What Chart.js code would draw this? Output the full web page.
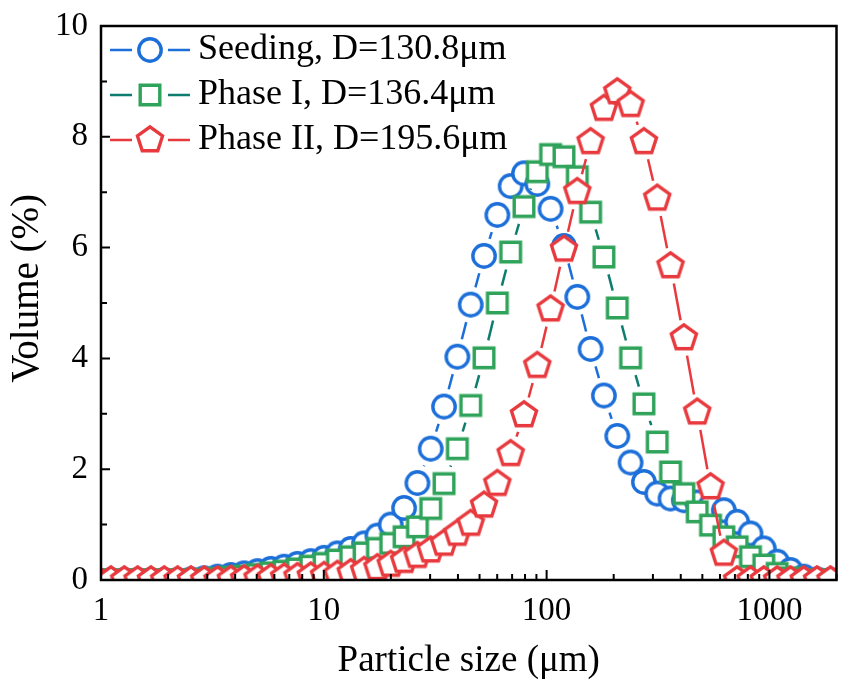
<!DOCTYPE html>
<html>
<head>
<meta charset="utf-8">
<title>Particle size distribution</title>
<script src="https://cdn.jsdelivr.net/npm/chart.js@4.4.1/dist/chart.umd.min.js"></script>
<style>
  html, body { margin: 0; padding: 0; background: #fff; }
  #wrap { width: 851px; height: 690px; }
</style>
</head>
<body>
<div id="wrap"><canvas id="psd" width="851" height="690"></canvas></div>
<script>
// ---------- Data ----------
// particle size classes, um (log-spaced instrument bins)
const sizes = [
  0.966, 1.108, 1.272, 1.460, 1.675, 1.922, 2.206, 2.532, 2.905, 3.334,
  3.826, 4.391, 5.040, 5.783, 6.637, 7.617, 8.741, 10.03, 11.51, 13.21,
  15.16, 17.40, 19.97, 22.92, 26.30, 30.19, 34.64, 39.76, 45.63, 52.36,
  60.09, 68.97, 79.15, 90.83, 104.2, 119.6, 137.3, 157.5, 180.8, 207.5,
  238.1, 273.3, 313.6, 359.9, 413.0, 474.0, 544.0, 624.3, 716.5, 822.2,
  943.6, 1083, 1243, 1426, 1637, 1879
];
// volume %, one value per size class
const seeding = [
  0, 0, 0, 0, 0, 0, 0, 0.01, 0.03, 0.06,
  0.09, 0.12, 0.16, 0.20, 0.24, 0.29, 0.34, 0.40, 0.48, 0.56,
  0.66, 0.80, 1.00, 1.30, 1.75, 2.37, 3.13, 4.03, 4.97, 5.85,
  6.59, 7.11, 7.34, 7.15, 6.70, 6.03, 5.11, 4.17, 3.33, 2.60,
  2.12, 1.77, 1.56, 1.47, 1.44, 1.40, 1.34, 1.26, 1.05, 0.84,
  0.57, 0.33, 0.18, 0.06, 0.01, 0
];
const phase1 = [
  0, 0, 0, 0, 0, 0, 0, 0, 0.01, 0.03,
  0.05, 0.07, 0.10, 0.13, 0.16, 0.20, 0.25, 0.30, 0.36, 0.42,
  0.49, 0.57, 0.66, 0.78, 0.96, 1.29, 1.74, 2.37, 3.15, 4.01,
  5.00, 5.92, 6.74, 7.37, 7.68, 7.64, 7.28, 6.64, 5.83, 4.91,
  4.01, 3.18, 2.49, 1.95, 1.56, 1.23, 0.99, 0.78, 0.60, 0.42,
  0.27, 0.12, 0.04, 0, 0, 0
];
const phase2 = [
  0, 0, 0, 0, 0, 0, 0, 0, 0, 0,
  0.01, 0.02, 0.03, 0.04, 0.05, 0.06, 0.07, 0.08, 0.10, 0.13,
  0.17, 0.22, 0.28, 0.35, 0.44, 0.54, 0.66, 0.84, 1.02, 1.35,
  1.74, 2.28, 2.98, 3.87, 4.89, 5.97, 7.01, 7.91, 8.51, 8.81,
  8.58, 7.91, 6.89, 5.67, 4.37, 3.03, 1.68, 0.48, 0, 0,
  0, 0, 0, 0, 0, 0
];
const seriesLabels = ['Seeding, D=130.8μm', 'Phase I, D=136.4μm', 'Phase II, D=195.6μm'];
const xLabelTicks = [1, 10, 100, 1000];
const xAllTicks = [
  1, 2, 3, 4, 5, 6, 7, 8, 9,
  10, 20, 30, 40, 50, 60, 70, 80, 90,
  100, 200, 300, 400, 500, 600, 700, 800, 900,
  1000, 2000
];

// ---------- Styles ----------
const BLUE  = '#1c6fd9';
const GREEN = '#2fa35a';
const TEAL  = '#0f7c70';
const RED   = '#e83a3e';
const SERIF = "'Liberation Serif', 'Times New Roman', serif";
const GAP   = 18;   // line stops this far from each symbol centre

function shapePath(ctx, shape, cx, cy) {
  ctx.beginPath();
  if (shape === 'circle') {
    ctx.arc(cx, cy, 11.2, 0, Math.PI * 2);
  } else if (shape === 'square') {
    ctx.rect(cx - 9.8, cy - 9.8, 19.6, 19.6);
  } else {
    const R = 13.2;
    for (let i = 0; i < 5; i++) {
      const a = -Math.PI / 2 + i * 2 * Math.PI / 5;
      const px = cx + R * Math.cos(a), py = cy + R * Math.sin(a);
      if (i) ctx.lineTo(px, py); else ctx.moveTo(px, py);
    }
    ctx.closePath();
  }
}
function symbol(shape, color) {
  const c = document.createElement('canvas');
  c.width = c.height = 32;
  const ctx = c.getContext('2d');
  shapePath(ctx, shape, 16, 16);
  ctx.fillStyle = '#fff';
  ctx.fill();
  ctx.lineWidth = 3.4;
  ctx.strokeStyle = color;
  ctx.stroke();
  return c;
}
function legendIcon(shape, color, lineColor) {
  const c = document.createElement('canvas');
  c.width = 90; c.height = 32;
  const ctx = c.getContext('2d');
  ctx.strokeStyle = lineColor;
  ctx.lineWidth = 2.5;
  ctx.beginPath();
  ctx.moveTo(10, 16); ctx.lineTo(32, 16);
  ctx.moveTo(68, 16); ctx.lineTo(90, 16);
  ctx.stroke();
  ctx.drawImage(symbol(shape, color), 34, 0);
  return c;
}
const legendIcons = [
  legendIcon('circle', BLUE, BLUE),
  legendIcon('square', GREEN, TEAL),
  legendIcon('pentagon', RED, RED)
];

// each segment is its own dash run: blank GAP, line, blank rest
const gapDash = (c) => {
  const L = Math.hypot(c.p1.x - c.p0.x, c.p1.y - c.p0.y);
  const tail = 1000 + c.p0DataIndex * 0.001;
  return L > 2 * GAP ? [0, GAP, L - 2 * GAP, tail] : [0, L + tail];
};

const toPoints = (vals) => sizes.map((s, i) => ({ x: s, y: vals[i] }));

function series(label, vals, shape, color, lineColor, order) {
  return {
    label,
    data: toPoints(vals),
    borderColor: lineColor,
    borderWidth: 2.5,
    pointStyle: symbol(shape, color),
    pointRadius: 12,
    pointHoverRadius: 12,
    tension: 0,
    clip: 0,
    order,
    segment: { borderDash: gapDash }
  };
}

// ---------- Frame + inward ticks ----------
const frame = {
  id: 'frame',
  afterLayout(chart) {
    // pin the legend to the top-left corner of the plot
    const lg = chart.legend, a = chart.chartArea;
    const w = lg.width, h = lg.height;
    lg.left = a.left; lg.right = a.left + w;
    lg.top = a.top - 3; lg.bottom = lg.top + h;
  },
  afterDatasetsDraw(chart) {
    const { ctx, chartArea: a, scales: { x, y } } = chart;
    ctx.save();
    ctx.strokeStyle = '#000';
    ctx.lineWidth = 2;
    ctx.beginPath();
    x.ticks.forEach(t => {
      const px = x.getPixelForValue(t.value);
      const len = xLabelTicks.includes(t.value) ? 10 : 6;
      ctx.moveTo(px, a.bottom);
      ctx.lineTo(px, a.bottom - len);
    });
    y.ticks.forEach(t => {
      const py = y.getPixelForValue(t.value);
      const len = t.value % 2 === 0 ? 9 : 6;
      ctx.moveTo(a.left, py);
      ctx.lineTo(a.left + len, py);
    });
    ctx.stroke();
    ctx.lineWidth = 2.5;
    ctx.strokeRect(a.left, a.top, a.right - a.left, a.bottom - a.top);
    ctx.restore();
  }
};

Chart.defaults.font.family = SERIF;
Chart.defaults.color = '#000';

new Chart(document.getElementById('psd').getContext('2d'), {
  type: 'line',
  data: {
    datasets: [
      series(seriesLabels[0], seeding, 'circle', BLUE, BLUE, 2),
      series(seriesLabels[1], phase1, 'square', GREEN, TEAL, 1),
      series(seriesLabels[2], phase2, 'pentagon', RED, RED, 0)
    ]
  },
  options: {
    responsive: false,
    animation: false,
    events: [],
    layout: { padding: { left: 0, top: 26, right: 11, bottom: 0 } },
    scales: {
      x: {
        type: 'logarithmic',
        min: 1,
        max: 2000,
        afterBuildTicks: (s) => { s.ticks = xAllTicks.map(v => ({ value: v })); },
        afterFit: (s) => { s.height = 110; },
        grid: { display: false, drawTicks: false },
        border: { display: false },
        ticks: {
          autoSkip: false,
          maxRotation: 0,
          padding: 12,
          font: { size: 33 },
          callback: (v) => xLabelTicks.includes(v) ? String(v) : ''
        },
        title: {
          display: true,
          text: 'Particle size (μm)',
          font: { size: 37, lineHeight: 1.2 },
          padding: { top: 0, bottom: 7 }
        }
      },
      y: {
        min: 0,
        max: 10,
        afterFit: (s) => { s.width = 101; },
        grid: { display: false, drawTicks: false },
        border: { display: false },
        ticks: {
          stepSize: 1,
          padding: 13,
          font: { size: 33, lineHeight: 0.6 },
          callback: (v) => v % 2 === 0 ? String(v) : ''
        },
        title: {
          display: true,
          text: '   Volume (%)',
          font: { size: 39, lineHeight: 1.2 },
          padding: { top: 4, bottom: 0 }
        }
      }
    },
    plugins: {
      tooltip: { enabled: false },
      legend: {
        position: 'chartArea',
        align: 'start',
        labels: {
          usePointStyle: true,
          pointStyleWidth: 70,
          padding: 9,
          color: '#000',
          font: { size: 36 },
          sort: (a, b) => a.datasetIndex - b.datasetIndex,
          generateLabels: (chart) => {
            const items = Chart.defaults.plugins.legend.labels.generateLabels(chart);
            items.forEach(it => { it.pointStyle = legendIcons[it.datasetIndex]; });
            return items;
          }
        }
      }
    }
  },
  plugins: [frame]
});
</script>
</body>
</html>
